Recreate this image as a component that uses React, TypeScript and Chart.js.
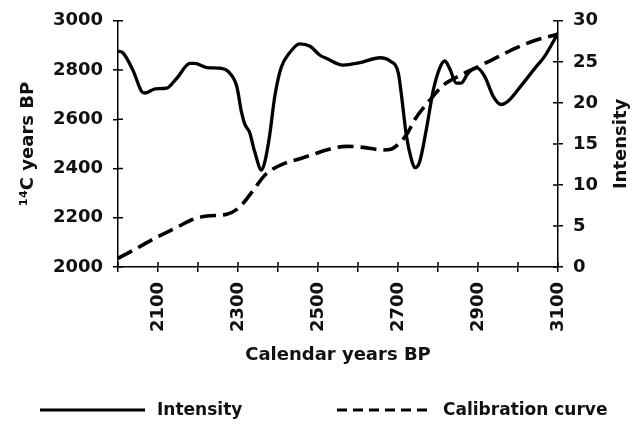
import React, { useEffect, useRef } from "react";
import { Chart, registerables } from "chart.js";

Chart.register(...registerables);

// Intensity series (right axis, 0-30)
const intensityYears = [
  2000, 2012, 2038, 2059, 2067, 2093, 2122, 2147, 2180, 2192, 2222, 2259, 2276, 2297,
  2309, 2317, 2329, 2342, 2359, 2367, 2379, 2392, 2408, 2429, 2454, 2480, 2505, 2522,
  2563, 2605, 2655, 2680, 2701, 2708, 2721, 2733, 2742, 2754, 2771, 2788, 2804, 2817,
  2829, 2846, 2858, 2875, 2896, 2917, 2938, 2958, 2975, 3008, 3042, 3067, 3100,
];
const intensityValues = [
  26.3, 26.1, 23.9, 21.4, 21.2, 21.7, 21.8, 23.0, 24.8, 24.8, 24.3, 24.2, 23.8, 22.0,
  18.8, 17.4, 16.4, 14.0, 11.8, 12.8, 16.0, 20.8, 24.3, 26.1, 27.2, 26.9, 25.8, 25.4,
  24.6, 24.9, 25.5, 25.1, 23.6, 21.2, 16.0, 13.2, 12.1, 12.8, 16.8, 21.5, 24.2, 25.1,
  24.2, 22.4, 22.4, 23.6, 24.3, 23.2, 20.8, 19.8, 20.2, 22.1, 24.2, 25.7, 28.5,
];

// Calibration curve (left axis, 14C years BP)
const calibrationYears = [
  2000, 2038, 2097, 2147, 2188, 2222, 2272, 2297, 2317, 2342, 2367, 2405, 2455, 2480,
  2530, 2572, 2613, 2663, 2684, 2701, 2722, 2742, 2780, 2813, 2855, 2897, 2947, 2997,
  3042, 3100,
];
const calibrationValues = [
  2035, 2068, 2121, 2161, 2194, 2207, 2214, 2234, 2267, 2320, 2373, 2413, 2440, 2453,
  2479, 2490, 2486, 2475, 2479, 2499, 2539, 2599, 2679, 2738, 2778, 2811, 2851, 2891,
  2920, 2945,
];

const seriesNames = ["Intensity", "Calibration curve"];
const xAxisTitle = "Calendar years BP";
const leftAxisTitle = "¹⁴C years BP";
const rightAxisTitle = "Intensity";

const FONT = "'DejaVu Sans', 'Liberation Sans', Arial, sans-serif";
const INK = "#111";

const decorPlugin = {
  id: "decor",
  afterDraw(chart: any) {
    const ctx = chart.ctx;
    const { x, y, y2 } = chart.scales;
    ctx.save();
    // inner halves of crossing tick marks
    ctx.strokeStyle = "#000";
    ctx.lineWidth = 1.5;
    ctx.beginPath();
    x.ticks.forEach((t: any) => {
      const px = x.getPixelForValue(t.value);
      ctx.moveTo(px, x.top);
      ctx.lineTo(px, x.top - 5);
    });
    y.ticks.forEach((t: any) => {
      const py = y.getPixelForValue(t.value);
      ctx.moveTo(y.right, py);
      ctx.lineTo(y.right + 5, py);
    });
    y2.ticks.forEach((t: any) => {
      const py = y2.getPixelForValue(t.value);
      ctx.moveTo(y2.left, py);
      ctx.lineTo(y2.left - 5, py);
    });
    ctx.stroke();

    // right axis title, reading bottom-to-top
    const ca = chart.chartArea;
    ctx.fillStyle = INK;
    ctx.font = `bold 18px ${FONT}`;
    ctx.textAlign = "center";
    ctx.textBaseline = "middle";
    ctx.save();
    ctx.translate(621, (ca.top + ca.bottom) / 2);
    ctx.rotate(-Math.PI / 2);
    ctx.fillText(rightAxisTitle, 0, 0);
    ctx.restore();

    // legend
    const ly = 410;
    ctx.lineWidth = 3;
    ctx.setLineDash([]);
    ctx.beginPath();
    ctx.moveTo(40, ly);
    ctx.lineTo(145, ly);
    ctx.stroke();
    ctx.setLineDash([10, 6]);
    ctx.beginPath();
    ctx.moveTo(337, ly);
    ctx.lineTo(433, ly);
    ctx.stroke();
    ctx.setLineDash([]);
    ctx.font = `bold 17px ${FONT}`;
    ctx.textAlign = "left";
    ctx.fillText(seriesNames[0], 157, ly + 1);
    ctx.fillText(seriesNames[1], 443, ly + 1);
    ctx.restore();
  },
};

export default function App() {
  const canvasRef = useRef<HTMLCanvasElement | null>(null);

  useEffect(() => {
    document.body.style.margin = "0";
    const canvas = canvasRef.current;
    if (!canvas) return;
    Chart.defaults.font.family = FONT;
    Chart.defaults.color = INK;

    const intensityData = intensityYears.map((yr, i) => ({ x: yr, y: intensityValues[i] }));
    const calibrationData = calibrationYears.map((yr, i) => ({ x: yr, y: calibrationValues[i] }));

    const chart = new Chart(canvas, {
      type: "line",
      data: {
        datasets: [
          {
            label: seriesNames[0],
            data: intensityData,
            yAxisID: "y2",
            borderColor: "#000",
            borderWidth: 3.3,
            pointRadius: 0,
            tension: 0.4,
            cubicInterpolationMode: "monotone",
            fill: false,
          },
          {
            label: seriesNames[1],
            data: calibrationData,
            yAxisID: "y",
            borderColor: "#000",
            borderWidth: 3.6,
            borderDash: [16, 7],
            pointRadius: 0,
            tension: 0.4,
            cubicInterpolationMode: "monotone",
            fill: false,
          },
        ],
      },
      options: {
        animation: false,
        responsive: false,
        layout: { padding: { top: 16, bottom: 62, left: 0, right: 0 } },
        plugins: { legend: { display: false }, tooltip: { enabled: false } },
        scales: {
          x: {
            type: "linear",
            min: 2000,
            max: 3100,
            grid: { drawOnChartArea: false, tickLength: 5, color: "#000", lineWidth: 1.5 },
            border: { color: "#000", width: 1.5 },
            ticks: {
              stepSize: 100,
              minRotation: 90,
              maxRotation: 90,
              padding: 10,
              autoSkip: false,
              font: { size: 18, weight: "bold" },
              callback: (v: any) => (Number(v) % 200 === 100 ? String(v) : ""),
            },
            title: {
              display: true,
              text: xAxisTitle,
              font: { size: 18, weight: "bold" },
              padding: { top: 0, bottom: 0 },
            },
            afterFit: (s: any) => {
              s.height = 99;
            },
          },
          y: {
            type: "linear",
            position: "left",
            min: 2000,
            max: 3000,
            grid: { drawOnChartArea: false, tickLength: 5, color: "#000", lineWidth: 1.5 },
            border: { color: "#000", width: 1.5 },
            ticks: {
              stepSize: 200,
              padding: 10,
              font: { size: 18, weight: "bold" },
              callback: (v: any) => String(v),
            },
            title: {
              display: true,
              text: leftAxisTitle,
              font: { size: 18, weight: "bold" },
              padding: { top: 18, bottom: 0 },
            },
            afterFit: (s: any) => {
              s.width = 118;
            },
          },
          y2: {
            type: "linear",
            position: "right",
            min: 0,
            max: 30,
            grid: { drawOnChartArea: false, tickLength: 5, color: "#000", lineWidth: 1.5 },
            border: { color: "#000", width: 1.5 },
            ticks: {
              stepSize: 5,
              padding: 10,
              font: { size: 18, weight: "bold" },
              callback: (v: any) => String(v),
            },
            afterFit: (s: any) => {
              s.width = 74;
            },
          },
        },
      },
      plugins: [decorPlugin],
    });

    return () => chart.destroy();
  }, []);

  return (
    <div style={{ width: 632, height: 428 }}>
      <canvas ref={canvasRef} width={632} height={428} style={{ display: "block" }} />
    </div>
  );
}
